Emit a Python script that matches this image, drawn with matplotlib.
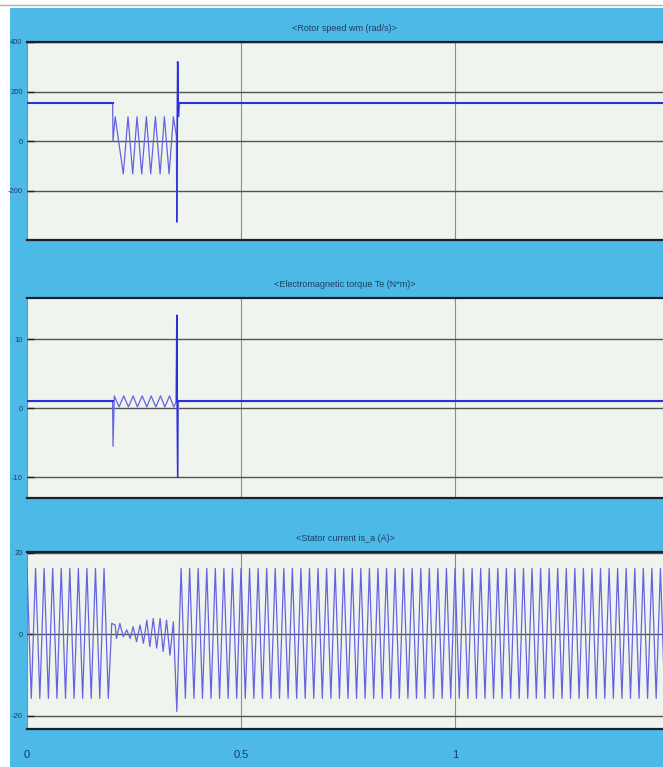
import matplotlib
matplotlib.use('Agg')
import matplotlib.pyplot as plt
from matplotlib import font_manager
from matplotlib.patches import Rectangle
import numpy as np

# pick a narrow font if one is installed, the scope text is squeezed
available = {f.name for f in font_manager.fontManager.ttflist}
text_font = 'DejaVu Sans'
for fam in ['Liberation Sans Narrow', 'DejaVu Sans Condensed', 'Liberation Sans']:
    if fam in available:
        text_font = fam
        break
plt.rcParams['font.family'] = [text_font, 'DejaVu Sans']

# Time axis (s)
t_end = 1.5
x_ticks = [0, 0.5, 1]
x_tick_labels = ['0', '0.5', '1']

# Rotor speed wm (rad/s), corners of the trace
speed_t = [0, 0.200, 0.201, 0.206, 0.225, 0.236, 0.247, 0.257, 0.268, 0.279,
           0.289, 0.300, 0.311, 0.321, 0.332, 0.342, 0.349, 0.350, 0.352,
           0.354, 0.357, 1.5]
speed_v = [155, 155, 0, 98, -133, 98, -133, 98, -133, 98,
           -133, 98, -133, 98, -133, 98, 20, -326, 320,
           100, 155, 155]
speed_yticks = [-200, 0, 200, 400]
speed_ylim = (-400, 400)

# Electromagnetic torque Te (N*m)
torque_t = [0, 0.200, 0.201, 0.204, 0.215, 0.226, 0.237, 0.248, 0.258, 0.269,
            0.280, 0.290, 0.301, 0.312, 0.322, 0.333, 0.343, 0.349, 0.350,
            0.352, 0.354, 1.5]
torque_v = [1.0, 1.0, -5.5, 1.8, 0.2, 1.8, 0.2, 1.8, 0.2, 1.8,
            0.2, 1.8, 0.2, 1.8, 0.2, 1.8, 0.2, 1.0, 13.5,
            -10.0, 1.0, 1.0]
torque_yticks = [-10, 0, 10]
torque_ylim = (-13, 16)

# Stator current is_a (A): 50 Hz swing before and after the fault
cur_peak = 16.2
cur_trough = -15.7
cur_half_period = 0.01
cur_pre_end = 0.19
cur_post_start = 0.36
fault_t = [0.198, 0.206, 0.209, 0.217, 0.225, 0.233, 0.241, 0.248, 0.256, 0.264,
           0.272, 0.280, 0.287, 0.295, 0.303, 0.311, 0.318, 0.326, 0.334, 0.342,
           0.350]
fault_v = [2.7, 2.3, -1.0, 2.7, -0.6, 1.1, -1.0, 1.9, -1.8, 2.3,
           -2.2, 3.5, -3.0, 3.9, -3.4, 3.9, -4.2, 3.5, -5.1, 3.1,
           -18.9]
current_yticks = [-20, 0, 20]
current_ylim = (-23.2, 20.2)

titles = ['<Rotor speed wm (rad/s)>',
          '<Electromagnetic torque Te (N*m)>',
          '<Stator current is_a (A)>']

pre_t = np.arange(0, cur_pre_end + 1e-9, cur_half_period)
pre_v = np.where(np.arange(len(pre_t)) % 2 == 0, cur_peak, cur_trough)
post_t = np.arange(cur_post_start, t_end + 1e-9, cur_half_period)
post_v = np.where(np.arange(len(post_t)) % 2 == 0, cur_peak, cur_trough)
current_t = np.concatenate([pre_t, fault_t, post_t])
current_v = np.concatenate([pre_v, fault_v, post_v])

BLUE_BG = '#4cb9e7'
FACE = '#eff4ee'
TXT = '#1b3f63'
DARK_LINE = '#2f2fd8'
THIN_LINE = '#6464e0'

W, H = 663, 767
fig = plt.figure(figsize=(W / 100, H / 100), dpi=100)
fig.patch.set_facecolor('white')
fig.add_artist(Rectangle((10 / W, 0), 1, (H - 8) / H, transform=fig.transFigure,
                         facecolor=BLUE_BG, edgecolor='none', zorder=0))
fig.add_artist(plt.Line2D([0, 1], [(H - 5) / H] * 2, transform=fig.transFigure,
                          color='#b0b0b0', lw=1.0))

# axes boxes in pixels: (left, top, bottom)
boxes = [(27, 42, 240), (27, 298, 498), (27, 552, 729)]
right_px = 27 + 428 * t_end   # 428 px per second, runs past the right edge

series = [(speed_t, speed_v, speed_yticks, speed_ylim, True),
          (torque_t, torque_v, torque_yticks, torque_ylim, True),
          (current_t, current_v, current_yticks, current_ylim, False)]

for i, ((l, top, bot), (tt, vv, yt, yl, steady)) in enumerate(zip(boxes, series)):
    ax = fig.add_axes([l / W, (H - bot) / H, (right_px - l) / W, (bot - top) / H])
    ax.set_facecolor(FACE)
    ax.plot(tt, vv, color=THIN_LINE, lw=0.9, zorder=3)
    if steady:
        # flat parts before and after the transient look heavier on the scope
        ax.plot(tt[:2], vv[:2], color=DARK_LINE, lw=1.5, zorder=4)
        ax.plot(tt[-2:], vv[-2:], color=DARK_LINE, lw=1.5, zorder=4)
        ax.plot(tt[-5:-2], vv[-5:-2], color=DARK_LINE, lw=1.1, zorder=4)
    ax.set_xlim(0, t_end)
    ax.set_ylim(*yl)
    ax.set_yticks(yt)
    ax.set_yticklabels([str(v) for v in yt])
    ax.set_xticks(x_ticks)
    ax.set_axisbelow(True)
    ax.grid(axis='y', color='#555550', lw=1.0)
    ax.grid(axis='x', color='#8c8c8c', lw=0.8)
    for s in ['left', 'right']:
        ax.spines[s].set_visible(False)
    for s in ['top', 'bottom']:
        ax.spines[s].set_color('#1e1e2e')
        ax.spines[s].set_linewidth(1.6)
    ax.tick_params(axis='y', direction='in', length=5, width=1.0, color='#222222',
                   labelsize=5.5, labelcolor=TXT, pad=3)
    ax.tick_params(axis='x', length=0, labelsize=8, labelcolor=TXT, pad=15)
    if i < 2:
        ax.set_xticklabels([])
    else:
        ax.set_xticklabels(x_tick_labels)
    ax.set_title(titles[i], fontsize=6.5, color=TXT, pad=8, x=(W - l) / 2 / (right_px - l))

fig.savefig('out.png', dpi=100)
